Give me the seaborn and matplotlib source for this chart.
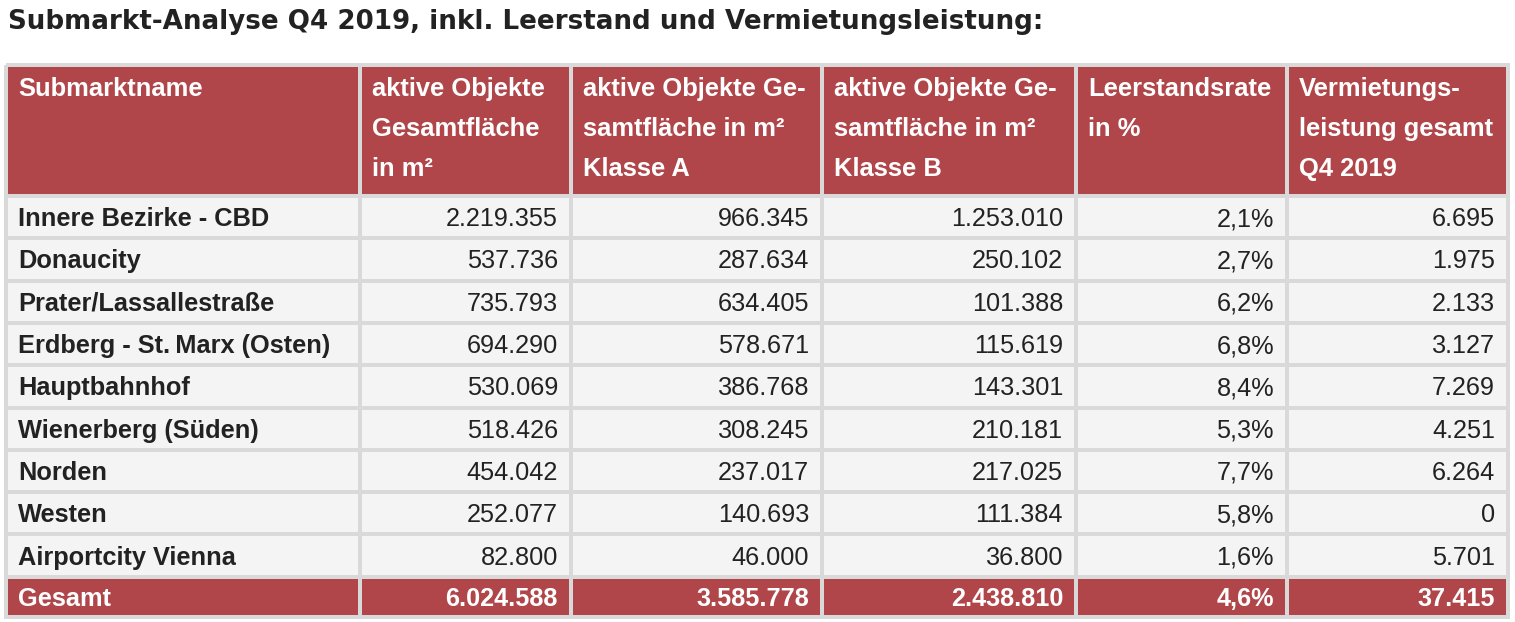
import numpy as np
import seaborn as sns
import matplotlib.pyplot as plt
from matplotlib.colors import ListedColormap

# table data
submarkets = [
    "Innere Bezirke - CBD",
    "Donaucity",
    "Prater/Lassallestraße",
    "Erdberg - St.\u2009Marx (Osten)",
    "Hauptbahnhof",
    "Wienerberg (Süden)",
    "Norden",
    "Westen",
    "Airportcity Vienna",
]
flaeche_gesamt = [2219355, 537736, 735793, 694290, 530069, 518426, 454042, 252077, 82800]
flaeche_a = [966345, 287634, 634405, 578671, 386768, 308245, 237017, 140693, 46000]
flaeche_b = [1253010, 250102, 101388, 115619, 143301, 210181, 217025, 111384, 36800]
leerstand = [2.1, 2.7, 6.2, 6.8, 8.4, 5.3, 7.7, 5.8, 1.6]
vermietung = [6695, 1975, 2133, 3127, 7269, 4251, 6264, 0, 5701]

total_label = "Gesamt"
total_gesamt = 6024588
total_a = 3585778
total_b = 2438810
total_leerstand = 4.6
total_vermietung = 37415

headers = [
    "Submarktname",
    "aktive Objekte\nGesamtfläche\nin m²",
    "aktive Objekte Ge-\nsamtfläche in m²\nKlasse A",
    "aktive Objekte Ge-\nsamtfläche in m²\nKlasse B",
    "Leerstandsrate\nin %",
    "Vermietungs-\nleistung gesamt\nQ4 2019",
]
title = "Submarkt-Analyse Q4 2019, inkl. Leerstand und Vermietungsleistung:"


def fmt_int(v):
    return f"{v:,}".replace(",", ".")


def fmt_pct(v):
    return f"{v:.1f}".replace(".", ",") + "%"


sns.set_theme(style="white")
plt.rcParams["font.family"] = ["Liberation Sans", "DejaVu Sans"]

RED = "#B0464A"
BODY = "#F4F4F4"
GRID = "#D9D9D9"
INK = "#222222"

# layout in pixels
x_edges = np.array([6, 360, 571, 822, 1076, 1287, 1508])
y_edges = np.array([65, 196] + [196 + 42.3 * (i + 1) for i in range(9)] + [617])

fig = plt.figure(figsize=(15.15, 6.22), dpi=100)
ax = fig.add_axes([0, 0, 1, 1])
ax.set_xlim(0, 1515)
ax.set_ylim(622, 0)
ax.axis("off")

n_rows = len(submarkets) + 2
kind = np.zeros((n_rows, len(headers)))
kind[0, :] = 1
kind[-1, :] = 1
ax.pcolormesh(x_edges, y_edges, kind, cmap=ListedColormap([BODY, RED]),
              edgecolors=GRID, linewidth=2.6, vmin=0, vmax=1)

ax.text(8, 29, title, fontsize=18.8, fontweight="bold", color=INK, va="baseline",
        family=["DejaVu Sans"])

# header
for j, h in enumerate(headers):
    for k, line in enumerate(h.split("\n")):
        ax.text(x_edges[j] + 12, 96 + 40 * k, line, fontsize=18.4, fontweight="bold",
                color="white", va="baseline")

rows = []
for i in range(len(submarkets)):
    rows.append([submarkets[i], fmt_int(flaeche_gesamt[i]), fmt_int(flaeche_a[i]),
                 fmt_int(flaeche_b[i]), fmt_pct(leerstand[i]), fmt_int(vermietung[i])])
rows.append([total_label, fmt_int(total_gesamt), fmt_int(total_a), fmt_int(total_b),
             fmt_pct(total_leerstand), fmt_int(total_vermietung)])

for i, row in enumerate(rows):
    yc = (y_edges[i + 1] + y_edges[i + 2]) / 2 + 9
    is_total = i == len(rows) - 1
    color = "white" if is_total else INK
    for j, val in enumerate(row):
        if j == 0:
            ax.text(x_edges[0] + 12, yc, val, fontsize=18.3, fontweight="bold",
                    color=color, va="baseline")
        else:
            ax.text(x_edges[j + 1] - 13, yc, val, fontsize=18.2, ha="right",
                    fontweight="bold" if is_total else "normal",
                    color=color, va="baseline")

fig.savefig("out.png", dpi=100, facecolor="white")
